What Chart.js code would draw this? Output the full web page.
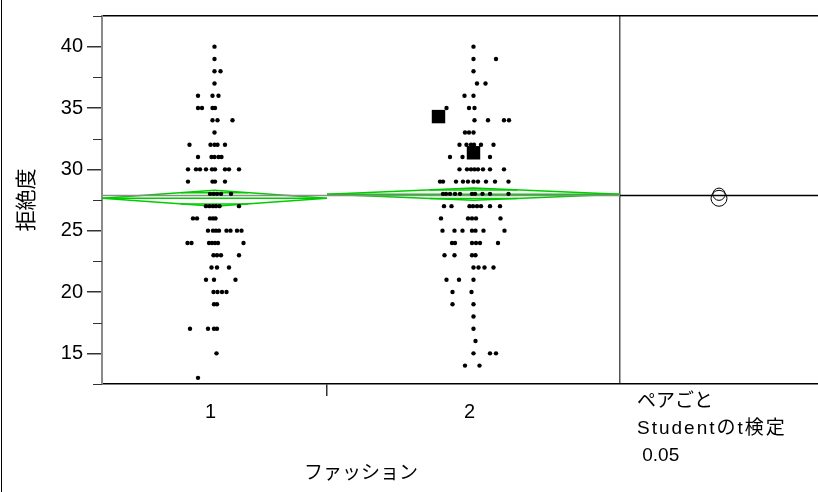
<!DOCTYPE html>
<html>
<head>
<meta charset="utf-8">
<script src="https://cdn.jsdelivr.net/npm/chart.js@4/dist/chart.umd.min.js"></script>
<style>
	html, body { margin: 0; padding: 0; background: #fff; }
	canvas { display: block; }
</style>
</head>
<body>
<canvas id="oneway" width="818" height="492"></canvas>
<script>
'use strict'

// group labels and relative widths (JMP scales by n), last one is the comparison-circle panel
const groups = ['1', '2'];
const groupWidths = [225, 293, 198];
const means = [27.64, 27.97];
const ci95 = [0.65, 0.5];
const grandMean = 27.86;

const yTitle = '拒絶度';
const xTitle = 'ファッション';
const panelText = ['ペアごと', 'Studentのt検定', ' 0.05'];

// [value, jitter offsets from the group centre]
const group1Rows = [
	[40, [0]],
	[39, [0]],
	[38, [0, 6]],
	[37, [0]],
	[36, [-16.5, -2, 4]],
	[35, [-16.5, -12.5, -2, 0.5]],
	[34, [-2, 3, 18]],
	[33, [0]],
	[32, [-25, -4, 0, 3, 10.5]],
	[31, [-16.5, -3, 0, 4, 7]],
	[30, [-26.5, -18.5, -14.5, -8.5, -2.5, 0.5, 10.5, 14.5, 24.5]],
	[29, [-26.5, -2, 0.5, 10.5]],
	[28, [-4.5, -1, 2.5, 6.5, 16.5]],
	[27, [-8.5, -5, -1.5, 1.5, 5, 24.5]],
	[26, [-21.5, -17.5, -4.5, -1.5, 1]],
	[25, [-6.5, -1.5, 1.5, 4.5, 12, 16, 22.5, 27]],
	[24, [-27, -23, -5.5, -2.5, 0.5, 3.5, 29]],
	[23, [-1, 2.5, 6.5, 24.5]],
	[22, [-3, 2.5, 14.5]],
	[21, [-8.5, -0.5, 21]],
	[20, [-1, 3, 7.5, 12]],
	[19, [-0.5, 2.5]],
	[17, [-24.5, -6.5, -0.5, 2.5]],
	[15, [2]],
	[13, [-16.5]],
];

const group2Rows = [
	[40, [0]],
	[39, [0, 22.5]],
	[38, [0]],
	[37, [3.5, 12]],
	[36, [-9, 0]],
	[35, [-27, -4.5, 1]],
	[34, [1, 14.5, 30.5, 35.5]],
	[33, [-8.5, -4.5, 0]],
	[32, [-14, -7, -2.5, 0.5, 7.5, 20]],
	[31, [-23.5, -11, 16.5]],
	[30, [-14, -6.5, -2.5, 1, 4.5, 9.5, 16.5, 30.5]],
	[29, [-33.5, -30.5, -17.5, -10.5, -5.5, 0, 4.5, 12.5, 21.5, 35]],
	[28, [-30.5, -27.5, -23.5, -18.5, -13.5, -1.5, 1.5, 9, 16.5, 35]],
	[27, [-29.5, -22, -4, -0.5, 3.5, 7.5, 16.5, 26.5]],
	[26, [-32.5, -5.5, -1.5, 2.5, 27]],
	[25, [-31, -19, -11, -1.5, 2, 10, 31]],
	[24, [-21.5, -18.5, -1.5, 2.5, 6.5, 24.5]],
	[23, [-29, -19, -1.5, 2]],
	[22, [0, 5, 11, 20]],
	[21, [-27, -14.5, 0]],
	[20, [-21, -2]],
	[19, [-21, 0]],
	[18, [0]],
	[17, [0]],
	[16, [2]],
	[15, [0, 16.5, 22.5]],
	[14, [-8.5, 6]],
];

// the two oversized markers in group 2
const bigGroup = [1, 1];
const bigOffset = [-35, 0];
const bigValue = [34.3, 31.35];

const green = '#00cc00';
const fontFamily = "'Liberation Sans', 'Noto Sans CJK JP', sans-serif";

let edges = [0];
groupWidths.forEach(function (w, i) { edges.push(edges[i] + w); });
const centers = groups.map(function (g, i) { return (edges[i] + edges[i + 1]) / 2; });
const panelCenter = (edges[2] + edges[3]) / 2;

function rowsToPoints(rows, gi) {
	let pts = [];
	rows.forEach(function (row) {
		row[1].forEach(function (off) {
			pts.push({ x: centers[gi] + off, y: row[0] });
		});
	});
	return pts;
}

const bigPoints = bigValue.map(function (v, i) {
	return { x: centers[bigGroup[i]] + bigOffset[i], y: v };
});

function lineSet(data, color, width) {
	return {
		type: 'line',
		data: data,
		borderColor: color,
		borderWidth: width,
		pointRadius: 0,
		fill: false,
		tension: 0,
		order: 2,
	};
}

let diamondSets = [];
groups.forEach(function (g, i) {
	const l = edges[i], r = edges[i + 1], c = centers[i], m = means[i], h = ci95[i];
	const ov = h * Math.SQRT1_2;
	const ow = (r - l) * 0.15;
	diamondSets.push(lineSet([{ x: l, y: m }, { x: c, y: m + h }, { x: r, y: m }, { x: c, y: m - h }, { x: l, y: m }], green, 1.5));
	diamondSets.push(lineSet([{ x: l, y: m }, { x: r, y: m }], green, 1.5));
	diamondSets.push(lineSet([{ x: c - ow, y: m + ov }, { x: c + ow, y: m + ov }], green, 1.5));
	diamondSets.push(lineSet([{ x: c - ow, y: m - ov }, { x: c + ow, y: m - ov }], green, 1.5));
});

const xTickValues = [centers[0], edges[1], centers[1], edges[2]];
const xTickLabels = [groups[0], '', groups[1], ''];

// minor ticks, comparison circles, panel text, frame
const extras = {
	id: 'extras',
	afterDatasetsDraw: function (chart) {
		const c = chart.ctx;
		const ys = chart.scales.y, xs = chart.scales.x;
		const area = chart.chartArea;
		c.save();
		c.strokeStyle = '#333';
		c.lineWidth = 1;
		for (let v = ys.min; v <= ys.max; v += 5) {
			const py = Math.round(ys.getPixelForValue(v)) + 0.5;
			c.beginPath();
			c.moveTo(area.left - 9, py);
			c.lineTo(area.left, py);
			c.stroke();
		}
		// comparison circles
		c.strokeStyle = '#000';
		const cx = xs.getPixelForValue(panelCenter);
		means.forEach(function (m, i) {
			const cy = ys.getPixelForValue(m);
			const r = Math.abs(ys.getPixelForValue(m + ci95[i]) - cy);
			c.beginPath();
			c.arc(cx, cy, r, 0, Math.PI * 2);
			c.stroke();
		});
		// left frame line
		c.beginPath();
		c.moveTo(1.5, 0);
		c.lineTo(1.5, chart.height);
		c.stroke();
		// panel text
		c.fillStyle = '#000';
		c.font = '19px ' + fontFamily;
		c.textBaseline = 'middle';
		c.textAlign = 'left';
		const tx = xs.getPixelForValue(edges[2]) + 17;
		panelText.forEach(function (t, i) {
			c.letterSpacing = i === 1 ? '2px' : '0px';
			c.fillText(t, tx, area.bottom + 18 + i * 27);
		});
		c.letterSpacing = '0px';
		// x title, centred under the groups only
		c.textAlign = 'center';
		c.fillText(xTitle, (xs.getPixelForValue(edges[0]) + xs.getPixelForValue(edges[2])) / 2, area.bottom + 90);
		c.restore();
	},
};

Chart.defaults.font.family = fontFamily;
Chart.defaults.font.size = 20;
Chart.defaults.color = '#000';

let chartOneway = new Chart(document.getElementById('oneway'), {
	type: 'scatter',
	data: {
		datasets: [
			{
				data: rowsToPoints(group1Rows, 0).concat(rowsToPoints(group2Rows, 1)),
				pointRadius: 2.2,
				pointBorderWidth: 0,
				pointBackgroundColor: '#000',
				order: 0,
			},
			{
				data: bigPoints,
				pointStyle: 'rect',
				pointRadius: 9.5,
				pointBorderWidth: 0,
				pointBackgroundColor: '#000',
				order: 0,
			},
			lineSet([{ x: edges[0], y: grandMean }, { x: edges[2], y: grandMean }], '#8c8c8c', 1.5),
			lineSet([{ x: edges[2], y: grandMean }, { x: edges[3], y: grandMean }], '#000', 1.5),
		].concat(diamondSets),
	},
	options: {
		responsive: false,
		animation: false,
		layout: { autoPadding: false, padding: { top: 12, left: 0, right: 0, bottom: 0 } },
		plugins: {
			legend: { display: false },
			tooltip: { enabled: false },
		},
		scales: {
			x: {
				type: 'linear',
				min: edges[0],
				max: edges[3],
				afterBuildTicks: function (scale) {
					scale.ticks = xTickValues.map(function (v) { return { value: v }; });
				},
				afterFit: function (scale) { scale.height = 108; },
				ticks: {
					padding: 4,
					labelOffset: -4,
					maxRotation: 0,
					callback: function (value) {
						const i = xTickValues.indexOf(value);
						return i < 0 ? '' : xTickLabels[i];
					},
				},
				grid: {
					tickLength: 12,
					color: function (ctx) { return ctx.tick && ctx.tick.value === edges[2] ? '#555' : 'rgba(0,0,0,0)'; },
					tickColor: function (ctx) { return ctx.tick && ctx.tick.value === edges[1] ? '#333' : 'rgba(0,0,0,0)'; },
					lineWidth: 1.5,
				},
				border: { color: '#000', width: 1.5 },
			},
			y: {
				min: 12.5,
				max: 42.5,
				afterFit: function (scale) { scale.width = 102; },
				title: {
					display: true,
					text: yTitle,
					font: { size: 21 },
					padding: { top: 15, bottom: 0 },
				},
				ticks: {
					stepSize: 2.5,
					padding: 4,
					callback: function (value) { return value % 5 === 0 ? String(value) : ''; },
				},
				grid: {
					tickLength: 15,
					color: function (ctx) { return ctx.tick && ctx.tick.value === 42.5 ? '#000' : 'rgba(0,0,0,0)'; },
					tickColor: function (ctx) { return ctx.tick && ctx.tick.value % 5 === 0 ? '#333' : 'rgba(0,0,0,0)'; },
					lineWidth: 1.5,
				},
				border: { color: '#8a8a8a', width: 2 },
			},
		},
	},
	plugins: [extras],
});
</script>
</body>
</html>
